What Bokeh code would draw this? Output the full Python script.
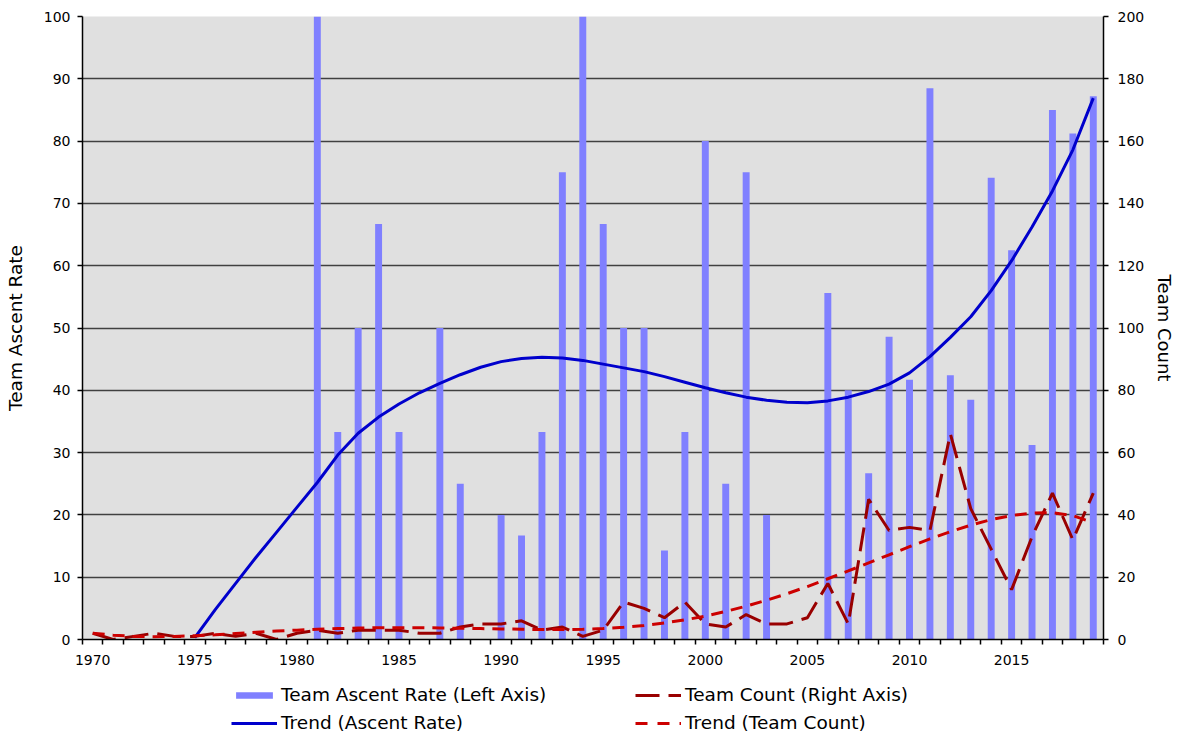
import numpy as np
from bokeh.plotting import figure
from bokeh.layouts import column
from bokeh.models import Range1d, LinearAxis, FixedTicker, Legend, LegendItem, ColumnDataSource
from bokeh.embed import file_html
from bokeh.resources import INLINE

nan = float("nan")

# ---------------- data ----------------
years = list(range(1970, 2020))

ascent_rate = [nan] * 11 + [
    100, 33.3, 50, 66.7, 33.3, nan, 50, 25, nan, 20,          # 1981-1990
    16.7, 33.3, 75, 100, 66.7, 50, 50, 14.3, 33.3, 80,         # 1991-2000
    25, 75, 20, nan, nan, 55.6, 40, 26.7, 48.6, 41.7,          # 2001-2010
    88.5, 42.4, 38.5, 74.1, 62.5, 31.2, 85.0, 81.2, 87.2,      # 2011-2019
]

team_count = [
    2, 0, 1, 2, 1, 1, 2, 1, 2, 0,        # 1970-1979
    2, 3, 2, 3, 3, 3, 2, 2, 4, 5,        # 1980-1989
    5, 6, 3, 4, 1, 3, 12, 10, 7, 12,     # 1990-1999
    5, 4, 8, 5, 5, 7, 18, 5, 45, 35,     # 2000-2009
    36, 35, 66, 42, 29, 16, 33, 47, 32, 47,  # 2010-2019
]

trend_count = [
    2.0, 1.4, 1.0, 0.9, 1.0, 1.2, 1.5, 1.9, 2.3, 2.7,
    3.0, 3.3, 3.5, 3.7, 3.8, 3.8, 3.8, 3.7, 3.6, 3.5,
    3.4, 3.3, 3.2, 3.2, 3.3, 3.5, 3.9, 4.5, 5.3, 6.3,
    7.5, 9.0, 10.7, 12.6, 14.7, 17.0, 19.5, 22.0, 24.6, 27.2,
    29.8, 32.3, 34.6, 36.7, 38.5, 39.8, 40.6, 40.7, 39.8, 37.5,
]

trend_years = list(range(1975, 2020))
trend_rate = [
    0.3, 4.8, 9.0, 13.2, 17.2,
    21.2, 25.2, 29.6, 33.1, 35.7, 37.8, 39.6, 41.1, 42.5, 43.7,
    44.6, 45.1, 45.3, 45.2, 44.8, 44.2, 43.6, 43.0, 42.2, 41.3,
    40.4, 39.6, 38.9, 38.4, 38.1, 38.0, 38.3, 38.9, 39.8, 41.0,
    42.8, 45.4, 48.5, 51.8, 56.0, 60.8, 66.2, 72.0, 78.6, 86.9,
]

label_years = list(range(1970, 2020, 5))
left_ticks = list(range(0, 101, 10))
right_ticks = list(range(0, 201, 20))

series_labels = ["Team Ascent Rate (Left Axis)", "Team Count (Right Axis)",
                 "Trend (Ascent Rate)", "Trend (Team Count)"]

FONT = "DejaVu Sans"
BAR_COLOR = "#8080FF"
TREND_COLOR = "#0000CC"
COUNT_COLOR = "#990000"
TCOUNT_COLOR = "#CC0000"

# ---------------- main figure ----------------
p = figure(width=1178, height=680, output_backend="svg", toolbar_location=None,
           x_range=Range1d(1969.5, 2019.5), y_range=Range1d(0, 100),
           min_border_left=82, min_border_right=74, min_border_top=16, min_border_bottom=41,
           background_fill_color="#E0E0E0", border_fill_color="white",
           outline_line_color=None)
p.extra_y_ranges = {"count": Range1d(0, 200)}

src = ColumnDataSource(dict(year=years, rate=ascent_rate, count=team_count, tcount=trend_count))
tsrc = ColumnDataSource(dict(year=trend_years, trate=trend_rate))

p.vbar(x="year", top="rate", width=0.34, source=src, fill_color=BAR_COLOR, line_color=None)
p.line(x="year", y="trate", source=tsrc, line_color=TREND_COLOR, line_width=3)
p.line(x="year", y="count", source=src, y_range_name="count",
       line_color=COUNT_COLOR, line_width=3, line_dash="24 9")
p.line(x="year", y="tcount", source=src, y_range_name="count",
       line_color=TCOUNT_COLOR, line_width=3, line_dash="12 8")

# grid
p.xgrid.visible = False
p.ygrid.ticker = FixedTicker(ticks=left_ticks)
p.ygrid.grid_line_color = "#404040"
p.ygrid.grid_line_width = 1.5

# x axis
xa = p.xaxis[0]
xa.ticker = FixedTicker(ticks=label_years, minor_ticks=[y - 0.5 for y in years] + [2019.5])
xa.major_tick_out = 0
xa.major_tick_in = 0
xa.minor_tick_out = 5
xa.minor_tick_in = 0
xa.minor_tick_line_color = "black"
xa.minor_tick_line_width = 1.5
xa.axis_line_color = "black"
xa.axis_line_width = 1.5
xa.major_label_standoff = 10
xa.major_label_text_font = FONT
xa.major_label_text_font_size = "14px"
xa.major_label_text_color = "black"

# left axis
ya = p.yaxis[0]
ya.ticker = FixedTicker(ticks=left_ticks)
ya.major_tick_out = 5
ya.major_tick_in = 0
ya.minor_tick_out = 0
ya.minor_tick_line_color = None
ya.major_tick_line_color = "black"
ya.major_tick_line_width = 1.5
ya.axis_line_color = "black"
ya.axis_line_width = 1.5
ya.major_label_standoff = 7
ya.major_label_text_font = FONT
ya.major_label_text_font_size = "14px"
ya.major_label_text_color = "black"
ya.axis_label = "Team Ascent Rate"
ya.axis_label_text_font = FONT
ya.axis_label_text_font_size = "18.5px"
ya.axis_label_text_font_style = "normal"
ya.axis_label_text_color = "black"
ya.axis_label_standoff = 15

# right axis
ra = LinearAxis(y_range_name="count", ticker=FixedTicker(ticks=right_ticks))
ra.major_tick_out = 5
ra.major_tick_in = 0
ra.minor_tick_out = 0
ra.minor_tick_line_color = None
ra.major_tick_line_color = "black"
ra.major_tick_line_width = 1.5
ra.axis_line_color = "black"
ra.axis_line_width = 1.5
ra.major_label_standoff = 9
ra.major_label_text_font = FONT
ra.major_label_text_font_size = "14px"
ra.major_label_text_color = "black"
ra.axis_label = "Team Count"
ra.axis_label_text_font = FONT
ra.axis_label_text_font_size = "18px"
ra.axis_label_text_font_style = "normal"
ra.axis_label_text_color = "black"
ra.axis_label_standoff = 7
p.add_layout(ra, "right")

# ---------------- legend strip below the chart ----------------
# Same series drawn again in a strip whose y range keeps them well out of view;
# only their legend entries show.
lg = figure(width=1178, height=56, output_backend="svg", toolbar_location=None,
            x_range=Range1d(1969.5, 2019.5), y_range=Range1d(500, 600),
            x_axis_location=None, y_axis_location=None,
            min_border=0, outline_line_color=None,
            background_fill_color="white", border_fill_color="white")
lg.grid.visible = False

r_bar = lg.vbar(x="year", top="rate", width=0.34, source=src, fill_color=BAR_COLOR, line_color=None)
r_count = lg.line(x="year", y="count", source=src, line_color=COUNT_COLOR, line_width=3, line_dash="24 9")
r_trend = lg.line(x="year", y="trate", source=tsrc, line_color=TREND_COLOR, line_width=3)
r_tcount = lg.line(x="year", y="tcount", source=src, line_color=TCOUNT_COLOR, line_width=3, line_dash="12 10")

legend = Legend(items=[
    LegendItem(label=series_labels[0], renderers=[r_bar]),
    LegendItem(label=series_labels[1], renderers=[r_count]),
    LegendItem(label=series_labels[2], renderers=[r_trend]),
    LegendItem(label=series_labels[3], renderers=[r_tcount]),
], orientation="horizontal", ncols=2, location=(149, 3),
    glyph_width=46, glyph_height=8, label_standoff=4, label_width=347, label_height=20,
    spacing=7, padding=0, margin=0, border_line_color=None, background_fill_alpha=0,
    label_text_font=FONT, label_text_font_size="18.5px", label_text_color="black")
lg.add_layout(legend, "center")

layout = column(p, lg, spacing=0)
open("out.html", "w").write(file_html(layout, INLINE))
